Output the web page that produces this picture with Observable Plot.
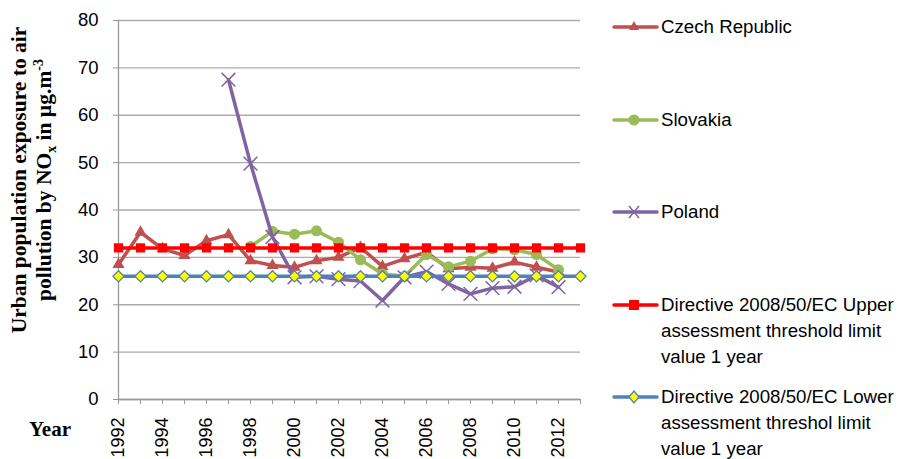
<!DOCTYPE html>
<html>
<head>
<meta charset="utf-8">
<script src="https://cdn.jsdelivr.net/npm/d3@7"></script>
<script src="https://cdn.jsdelivr.net/npm/@observablehq/plot@0.6"></script>
<style>
  body { margin: 0; background: #fff; }
  #wrap { position: relative; width: 907px; height: 459px; overflow: hidden; }
  .ytitle { position: absolute; left: 32px; top: 180px; width: 380px; transform: translate(-50%, -50%) rotate(-90deg);
    font-family: "Liberation Serif", "Times New Roman", serif; font-weight: bold; font-size: 21.5px; line-height: 25px; text-align: center; color: #000; white-space: nowrap; }
  .ytitle sub, .ytitle sup { font-size: 14px; line-height: 0; }
  .xtitle { position: absolute; left: 29px; top: 417px; font-family: "Liberation Serif", "Times New Roman", serif; font-weight: bold; font-size: 21px; color: #000; }
  .legend { position: absolute; left: 612px; top: 0; font-family: "Liberation Sans", Arial, sans-serif; font-size: 18.7px; line-height: 26px; color: #000; }
  .item { position: absolute; left: 0; white-space: nowrap; }
  .item svg { position: absolute; left: 0; top: 0; }
  .item .txt { position: absolute; left: 49px; top: 0; }
</style>
</head>
<body>
<div id="wrap"></div>
<script>
const years = [1992,1993,1994,1995,1996,1997,1998,1999,2000,2001,2002,2003,2004,2005,2006,2007,2008,2009,2010,2011,2012,2013];
const czech = [28.5,35.3,31.8,30.4,33.5,34.8,29.3,28.3,27.9,29.3,30.0,32.1,28.1,29.7,31.1,27.6,27.9,27.7,29.0,27.9,26.9,null];
const slovakia = [null,null,null,null,null,null,32.3,35.5,34.9,35.6,33.2,29.5,26.5,26.0,30.6,28.0,29.2,31.8,31.6,30.6,27.4,null];
const poland = [null,null,null,null,null,67.5,49.8,34.3,25.8,26.0,25.4,25.0,20.9,25.8,27.0,24.4,22.3,23.5,23.8,26.2,23.7,null];
const upper = [32,32,32,32,32,32,32,32,32,32,32,32,32,32,32,32,32,32,32,32,32,32];
const lower = [26,26,26,26,26,26,26,26,26,26,26,26,26,26,26,26,26,26,26,26,26,26];
const yTicks = [0,10,20,30,40,50,60,70,80];
const seriesNames = ["Czech Republic","Slovakia","Poland",
  "Directive 2008/50/EC Upper<br>assessment threshold limit<br>value 1 year",
  "Directive 2008/50/EC Lower<br>assessment threshol limit<br>value 1 year"];

const rows = v => years.map((y, i) => ({year: y, value: v[i]})).filter(d => d.value != null);
const cz = rows(czech), sk = rows(slovakia), pl = rows(poland), up = rows(upper), lo = rows(lower);

const C = {cz: "#C0504D", sk: "#9BBB59", pl: "#8064A2", up: "#FF0000", lo: "#4F81BD"};

const chart = Plot.plot({
  width: 907, height: 459,
  marginLeft: 118, marginRight: 327, marginTop: 20, marginBottom: 60,
  style: {fontFamily: "Liberation Sans, Arial, sans-serif", fontSize: "18px", color: "#000", background: "#fff"},
  x: {domain: [1992, 2013]},
  y: {domain: [0, 80]},
  marks: [
    Plot.gridY(yTicks, {stroke: "#ABABAB", strokeOpacity: 1, strokeWidth: 1.3}),
    Plot.ruleX([1992], {stroke: "#999", strokeWidth: 1.3}),
    Plot.ruleY([0], {stroke: "#999", strokeWidth: 1.3}),
    Plot.axisY({ticks: yTicks, tickSize: 5, tickPadding: 15, stroke: "#999", label: null, fontSize: 18.5}),
    Plot.axisX({ticks: years, tickSize: 5, tickPadding: 13, tickRotate: -90, label: null, fontSize: 18, stroke: "#999",
      tickFormat: d => d % 2 === 0 ? String(d) : ""}),
    Plot.line(cz, {x: "year", y: "value", stroke: C.cz, strokeWidth: 3.5}),
    Plot.dot(cz, {x: "year", y: "value", symbol: "triangle", r: 4.5, fill: C.cz}),
    Plot.line(sk, {x: "year", y: "value", stroke: C.sk, strokeWidth: 3.5}),
    Plot.dot(sk, {x: "year", y: "value", symbol: "circle", r: 5.5, fill: C.sk}),
    Plot.line(pl, {x: "year", y: "value", stroke: C.pl, strokeWidth: 3.5}),
    Plot.dot(pl, {x: "year", y: "value", symbol: "times", r: 6.3, stroke: C.pl, strokeWidth: 1.5}),
    Plot.line(up, {x: "year", y: "value", stroke: C.up, strokeWidth: 3.5}),
    Plot.dot(up, {x: "year", y: "value", symbol: "square", r: 5.2, fill: C.up}),
    Plot.line(lo, {x: "year", y: "value", stroke: C.lo, strokeWidth: 3.5}),
    Plot.dot(lo, {x: "year", y: "value", symbol: "diamond2", r: 5, fill: "#FFFF00", stroke: C.lo, strokeWidth: 1.3})
  ]
});

const wrap = document.getElementById("wrap");
wrap.appendChild(chart);

const yt = document.createElement("div");
yt.className = "ytitle";
yt.innerHTML = "Urban population exposure to air<br>pollution by NO<sub>x</sub> in \u00b5g.m<sup>-3</sup>";
wrap.appendChild(yt);

const xt = document.createElement("div");
xt.className = "xtitle";
xt.textContent = "Year";
wrap.appendChild(xt);

const swatch = {
  0: `<polygon points="22,21 27,30 17,30" fill="${C.cz}"/>`,
  1: `<circle cx="22" cy="27" r="5.5" fill="${C.sk}"/>`,
  2: `<path d="M17,21L27,33M27,21L17,33" stroke="${C.pl}" stroke-width="1.5"/>`,
  3: `<rect x="17" y="22" width="10" height="10" fill="${C.up}"/>`,
  4: `<path d="M22,21L27,27L22,33L17,27Z" fill="#FFFF00" stroke="${C.lo}" stroke-width="1.3"/>`
};
const lineCol = [C.cz, C.sk, C.pl, C.up, C.lo];
const tops = [14, 107, 199, 292, 384];
const leg = document.createElement("div");
leg.className = "legend";
seriesNames.forEach((name, i) => {
  const it = document.createElement("div");
  it.className = "item";
  it.style.top = (tops[i] - 14) + "px";
  it.innerHTML = `<svg width="48" height="54"><line x1="2" x2="45" y1="27" y2="27" stroke="${lineCol[i]}" stroke-width="3.5" stroke-linecap="round"/>${swatch[i]}</svg><div class="txt" style="top:14px">${name}</div>`;
  leg.appendChild(it);
});
wrap.appendChild(leg);
</script>
</body>
</html>
